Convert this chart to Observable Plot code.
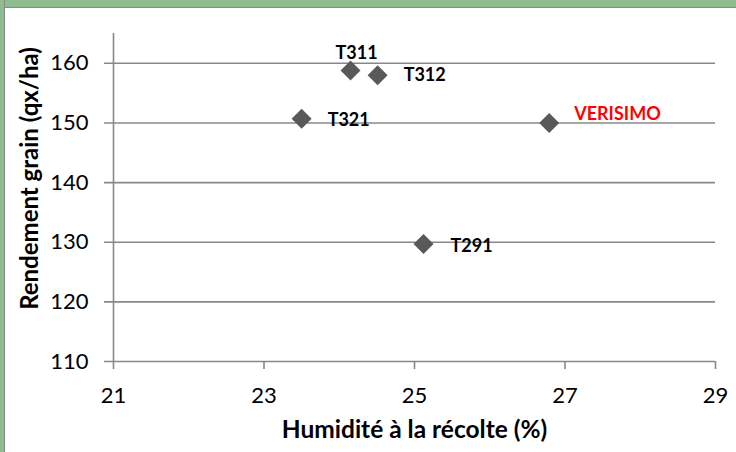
<!DOCTYPE html>
<html><head><meta charset="utf-8">
<script src="https://cdn.jsdelivr.net/npm/d3@7"></script>
<script src="https://cdn.jsdelivr.net/npm/@observablehq/plot@0.6"></script>
<style>
html,body{margin:0;padding:0;background:#fff;}
#wrap{position:relative;width:736px;height:452px;overflow:hidden;font-family:Lato,"Open Sans",sans-serif;}
#top{position:absolute;left:0;top:0;width:736px;height:7px;background:#8fbc8f;border-bottom:1px solid #8a8a8a;}
#left{position:absolute;left:0;top:0;width:4px;height:452px;background:#8fbc8f;border-right:1px solid #8a8a8a;}
#chart{position:absolute;left:0;top:0;}
</style></head><body>
<div id="wrap"><div id="chart"></div><div id="top"></div><div id="left"></div></div>
<script>
const names = ["T311","T312","T321","VERISIMO","T291"];
const humidite = [24.15, 24.51, 23.50, 26.79, 25.12];
const rendement = [158.8, 158.0, 150.7, 150.0, 129.7];
const xTicks = [21,23,25,27,29];
const yTicks = [110,120,130,140,150,160];

const data = names.map((n,i)=>({name:n, x:humidite[i], y:rendement[i]}));
const labelStyle = {
  T311: {dx: 6, dy: -17, anchor: "middle", fill: "#000"},
  T312: {dx: 26, dy: 0, anchor: "start", fill: "#000"},
  T321: {dx: 26, dy: 1, anchor: "start", fill: "#000"},
  VERISIMO: {dx: 25, dy: -9, anchor: "start", fill: "#ff0000"},
  T291: {dx: 27, dy: 2, anchor: "start", fill: "#000"}
};

const grid = "#888888";
const plot = Plot.plot({
  width: 736, height: 452,
  marginLeft: 113, marginRight: 21, marginTop: 33, marginBottom: 91,
  style: {fontFamily: "Lato, 'Open Sans', sans-serif", background: "transparent"},
  x: {domain: [21, 29], ticks: xTicks},
  y: {domain: [110, 165], ticks: yTicks},
  marks: [
    Plot.ruleY(yTicks, {stroke: grid, strokeWidth: 1.6, x1: 20.88, x2: 29}),
    Plot.ruleX([21], {stroke: grid, strokeWidth: 1.6}),
    Plot.ruleX(xTicks, {y1: 110, y2: 108.65, stroke: grid, strokeWidth: 1.6}),
    Plot.axisX({ticks: xTicks, tickSize: 0, tickPadding: 26, fontSize: 22, fill: "#000", label: null}),
    Plot.axisY({ticks: yTicks, tickSize: 0, tickPadding: 25, fontSize: 22, fill: "#000", label: null}),
    Plot.text(["Humidité à la récolte (%)"], {frameAnchor: "bottom", dy: 76, fontSize: 24.5, fontWeight: "bold", fill: "#000"}),
    Plot.text(["Rendement grain (qx/ha)"], {frameAnchor: "left", textAnchor: "middle", dx: -83, dy: -19, rotate: -90, fontSize: 24, fontWeight: "bold", fill: "#000"}),
    Plot.dot(data, {x: "x", y: "y", symbol: "diamond2", r: 9, fill: "#595959", stroke: "none"}),
    ...names.map(n => Plot.text(data.filter(d => d.name === n), {
      x: "x", y: "y", text: "name", fontSize: 18, fontWeight: "bold",
      dx: labelStyle[n].dx, dy: labelStyle[n].dy, textAnchor: labelStyle[n].anchor, fill: labelStyle[n].fill
    }))
  ]
});
document.getElementById("chart").appendChild(plot);
</script>
</body></html>
